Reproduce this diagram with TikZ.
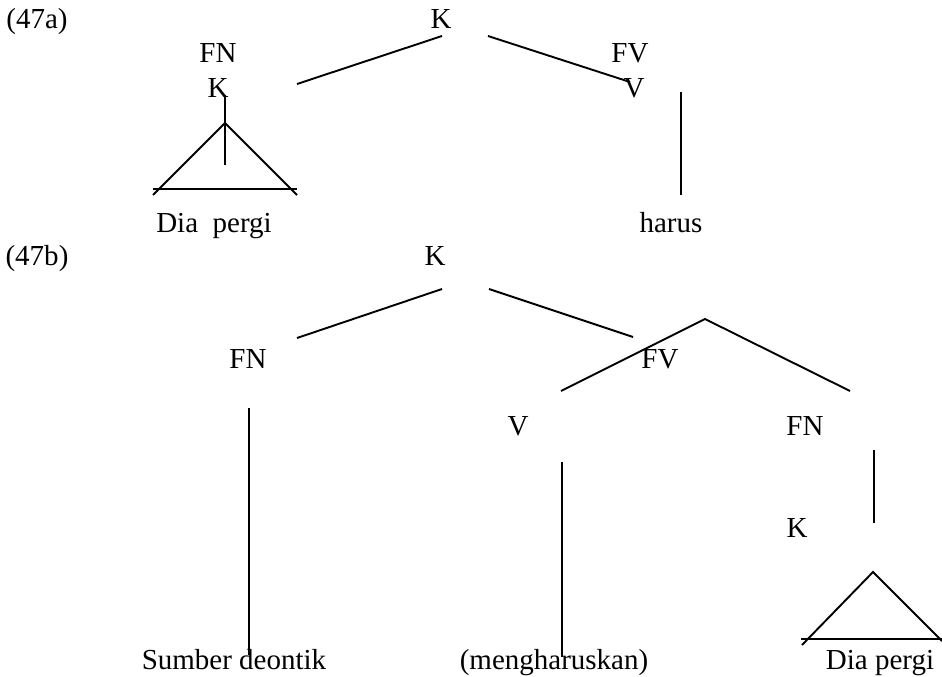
\documentclass[tikz,border=0pt]{standalone}
\usepackage{fontspec}
\setmainfont{Liberation Serif}
\begin{document}
\begin{tikzpicture}[x=1pt,y=-1pt,
  lbl/.style={inner sep=0pt,anchor=base,font=\fontsize{29}{34}\selectfont},
  br/.style={line width=1.9pt,line cap=butt}]
\useasboundingbox (0,0) rectangle (942,677);
% ---- (47a) ----
\node[lbl] (exa) at (37,29) {(47a)};
\node[lbl] (aK) at (441,29) {K};
\node[lbl] (aFN) at (218,63) {FN};
\node[lbl] (aK2) at (218,97) {K};
\node[lbl] (aFV) at (630,63) {FV};
\node[lbl] (aV) at (634,97) {V};
\node[lbl] (aDia) at (214,232) {Dia\ \ pergi};
\node[lbl] (aharus) at (671,232) {harus};
\coordinate (a1s) at (297,84); \coordinate (a1e) at (442,36);
\coordinate (a2s) at (488,36); \coordinate (a2e) at (630,82);
\coordinate (a3s) at (225,95); \coordinate (a3e) at (225,165);
\coordinate (atA) at (225,123); \coordinate (atL) at (153,195); \coordinate (atR) at (297,195);
\coordinate (abL) at (153,189); \coordinate (abR) at (297,189);
\coordinate (a4s) at (681,92); \coordinate (a4e) at (681,195);
\draw[br] (a1s) -- (a1e);
\draw[br] (a2s) -- (a2e);
\draw[br] (a3s) -- (a3e);
\draw[br] (atL) -- (atA) -- (atR);
\draw[br] (abL) -- (abR);
\draw[br] (a4s) -- (a4e);
% ---- (47b) ----
\node[lbl] (exb) at (37,265) {(47b)};
\node[lbl] (bK) at (435,265) {K};
\node[lbl] (bFN) at (248,368) {FN};
\node[lbl] (bFV) at (660,368) {FV};
\node[lbl] (bV) at (518,435) {V};
\node[lbl] (bFN2) at (805,435) {FN};
\node[lbl] (bK2) at (797,537) {K};
\node[lbl] (bSum) at (234,669) {Sumber deontik};
\node[lbl] (bMeng) at (554,669) {(mengharuskan)};
\node[lbl] (bDia) at (880,669) {Dia pergi};
\coordinate (b1s) at (297,338); \coordinate (b1e) at (442,289);
\coordinate (b2s) at (489,289); \coordinate (b2e) at (633,337);
\coordinate (bA) at (705,319); \coordinate (bAL) at (561,391); \coordinate (bAR) at (850,391);
\coordinate (b3s) at (249,408); \coordinate (b3e) at (249,655);
\coordinate (b4s) at (562,462); \coordinate (b4e) at (562,657);
\coordinate (b5s) at (874,450); \coordinate (b5e) at (874,523);
\coordinate (btA) at (873,572); \coordinate (btL) at (802,645); \coordinate (btR) at (942,641);
\coordinate (bbL) at (801,639); \coordinate (bbR) at (942,639);
\draw[br] (b1s) -- (b1e);
\draw[br] (b2s) -- (b2e);
\draw[br] (bAL) -- (bA) -- (bAR);
\draw[br] (b3s) -- (b3e);
\draw[br] (b4s) -- (b4e);
\draw[br] (b5s) -- (b5e);
\draw[br] (btL) -- (btA) -- (btR);
\draw[br] (bbL) -- (bbR);
\end{tikzpicture}
\end{document}
